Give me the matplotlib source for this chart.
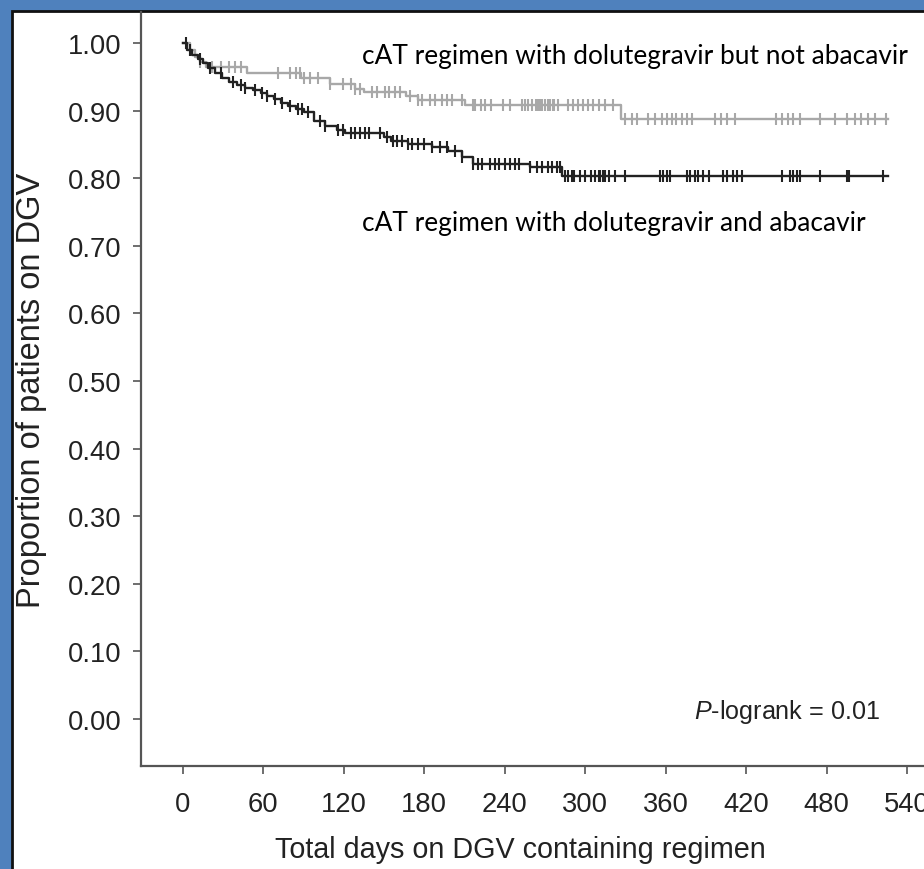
import numpy as np
import matplotlib
matplotlib.use("Agg")
import matplotlib.pyplot as plt
from matplotlib.patches import Rectangle

plt.rcParams['font.family'] = ['Liberation Sans', 'DejaVu Sans']
plt.rcParams['mathtext.fontset'] = 'custom'
plt.rcParams['mathtext.rm'] = 'Liberation Sans'
plt.rcParams['mathtext.it'] = 'Liberation Sans:italic'

# grey curve: dolutegravir without abacavir (step times in days, survival after step)
grey_times = [0, 5, 9, 13, 17, 48, 88, 110, 128, 135, 166, 175, 210, 327, 526]
grey_surv = [1.0, 0.99, 0.98, 0.972, 0.965, 0.955, 0.948, 0.940, 0.932, 0.928,
             0.922, 0.915, 0.908, 0.888, 0.888]
grey_censor = [5, 13, 22, 28, 34, 39, 43, 71, 80, 84, 87, 90, 95, 101, 110, 119,
               125, 128, 132, 141, 145, 151, 154, 158, 162, 169, 175, 178, 184,
               188, 193, 197, 201, 208, 216, 218, 222, 225, 230, 239, 244, 253,
               255, 257, 260, 263, 265, 266, 268, 270, 272, 274, 276, 277, 280,
               287, 291, 295, 298, 302, 306, 310, 315, 321, 330, 335, 339, 347,
               352, 357, 361, 365, 368, 372, 376, 380, 397, 401, 406, 412, 442,
               447, 451, 455, 460, 475, 486, 495, 501, 506, 511, 516, 524]

# black curve: dolutegravir with abacavir
black_times = [0, 3, 7, 11, 15, 19, 24, 29, 34, 40, 46, 52, 58, 63, 68, 73, 78,
               84, 90, 98, 106, 115, 121, 150, 155, 168, 186, 198, 208, 216, 259,
               283, 526]
black_surv = [1.0, 0.99, 0.983, 0.976, 0.97, 0.963, 0.955, 0.948, 0.942, 0.938,
              0.934, 0.930, 0.926, 0.922, 0.917, 0.912, 0.907, 0.902, 0.898,
              0.885, 0.877, 0.872, 0.867, 0.861, 0.855, 0.851, 0.846, 0.840,
              0.831, 0.821, 0.817, 0.803, 0.803]
black_censor = [2, 5, 13, 20, 28, 37, 43, 46, 54, 59, 63, 69, 74, 80, 86, 89, 93,
                102, 106, 116, 119, 125, 128, 132, 136, 139, 147, 152, 157, 160,
                163, 168, 171, 175, 180, 186, 192, 197, 203, 208, 216, 220, 223,
                229, 233, 236, 240, 244, 248, 251, 259, 264, 268, 272, 275, 279,
                281, 285, 287, 290, 292, 296, 300, 304, 307, 310, 311, 313, 315,
                318, 322, 330, 356, 358, 361, 363, 376, 378, 382, 384, 388, 392,
                403, 406, 410, 413, 417, 447, 453, 455, 458, 460, 475, 495, 497, 522]

xticks = list(range(0, 541, 60))
yticks = [i / 10 for i in range(11)]


def surv_at(times, surv, t):
	idx = np.searchsorted(times, t, side='right') - 1
	return np.array(surv)[idx]


fig = plt.figure(figsize=(9.24, 8.7), dpi=100, facecolor='#4f81bd')
# white panel with dark edge, behind the axes
panel = Rectangle((12 / 924, -0.01), 1.0, 1 - 12 / 870 + 0.01,
                  transform=fig.transFigure, facecolor='white',
                  edgecolor='#111111', linewidth=2, zorder=-10)
fig.patches.append(panel)

ax = fig.add_axes([141 / 924, 1 - 767 / 870, 1 - 141 / 924, (767 - 13) / 870])
ax.set_facecolor('none')
ax.set_zorder(1)

for times, surv, cens, col in [(grey_times, grey_surv, grey_censor, '#a8a8a8'),
                               (black_times, black_surv, black_censor, '#222222')]:
	ax.step(times, surv, where='post', color=col, lw=1.7)
	ax.plot(cens, surv_at(times, surv, cens), ls='none', marker='|', ms=8,
	        mew=1.5, color=col)

ax.set_xlim(-31.3, 552.7)
ax.set_ylim(-0.0695, 1.0459)
ax.set_xticks(xticks)
ax.set_yticks(yticks)
ax.set_yticklabels(['%.2f' % v for v in yticks])
for s in ['top', 'right']:
	ax.spines[s].set_visible(False)
for s in ['left', 'bottom']:
	ax.spines[s].set_color('#555555')
	ax.spines[s].set_linewidth(1.6)
ax.tick_params(axis='both', direction='out', length=6, width=1.2, color='#555555',
               labelsize=19.7, labelcolor='#222222')
ax.tick_params(axis='x', pad=12)
ax.tick_params(axis='y', pad=8)

ax.set_xlabel('Total days on DGV containing regimen', fontsize=20.7,
              color='#222222')
ax.xaxis.set_label_coords(0.485, -0.092)
ax.set_ylabel('Proportion of patients on DGV', fontsize=23.5, color='#222222',
              labelpad=15)

ax.text(133.5, 0.981, 'cAT regimen with dolutegravir but not abacavir',
        family=['Lato', 'DejaVu Sans'], fontsize=18.9, va='center', ha='left',
        color='black')
ax.text(133.5, 0.734, 'cAT regimen with dolutegravir and abacavir',
        family=['Lato', 'DejaVu Sans'], fontsize=18.9, va='center', ha='left',
        color='black')
ax.text(520, 0.012, r'$\it{P}$-logrank = 0.01', fontsize=18.1, ha='right',
        va='center', color='#222222')

fig.savefig('out.png', dpi=100, facecolor=fig.get_facecolor())
